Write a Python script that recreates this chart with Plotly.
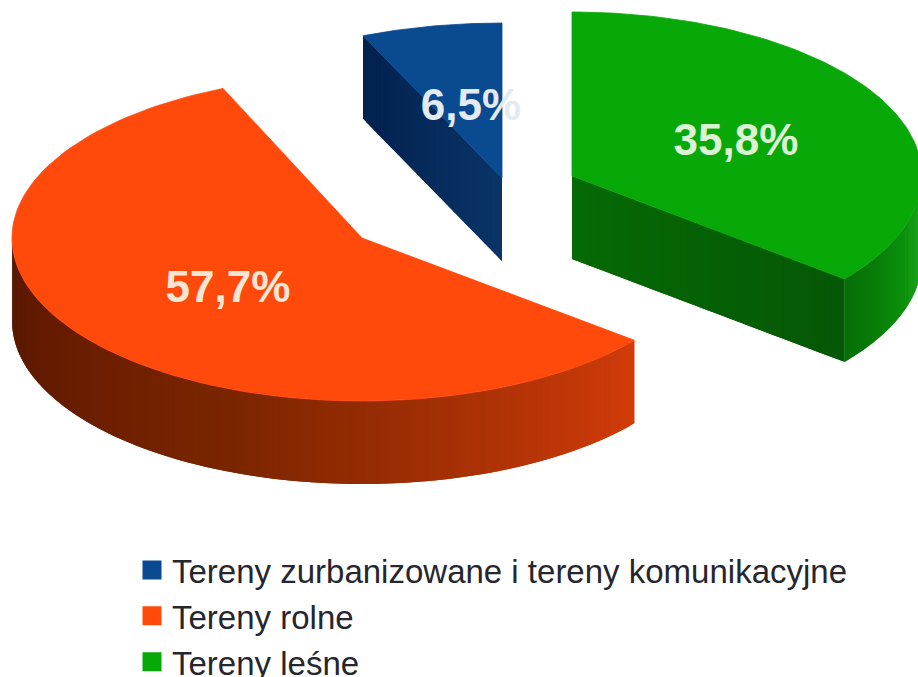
import numpy as np
import plotly.graph_objects as go

categories = ["Tereny zurbanizowane i tereny komunikacyjne", "Tereny rolne", "Tereny leśne"]
values = [6.5, 57.7, 35.8]

top_colors = ["#0a4a90", "#ff4a0c", "#08a808"]
centers = [(502, 178), (362, 238), (572, 176)]
radii_y = [155, 163, 164]
radius_x = 350
depth = 83
label_pos = [(471, 109), (228, 291), (736, 144)]
label_colors = ["#e4eaf1", "#f8e6d4", "#dcf2d4"]
wall_stops = {
    1: [(90, "#7a2400"), (129, "#d23c0a"), (165, "#a53005"), (200, "#7c2600"), (240, "#661c00"), (270, "#561800")],
    2: [(90, "#12a512"), (110, "#0c8f0c"), (129, "#086e08")],
}
cut_colors = {0: ("#02224f", "#0b3568"), 2: ("#055805", "#066a06")}


def hex2rgb(h):
    return np.array([int(h[i:i + 2], 16) for i in (1, 3, 5)], float)


def lerp_color(a, b, f):
    c = hex2rgb(a) * (1 - f) + hex2rgb(b) * f
    return "rgb(%d,%d,%d)" % tuple(c)


def stop_color(stops, t):
    ts = [s[0] for s in stops]
    rgb = [np.interp(t, ts, [hex2rgb(s[1])[k] for s in stops]) for k in range(3)]
    return "rgb(%d,%d,%d)" % tuple(rgb)


def rim(i, t):
    cx, cy = centers[i]
    r = np.radians(t)
    return cx + radius_x * np.sin(r), cy - radii_y[i] * np.cos(r)


def poly(xs, ys, color, edge=0):
    return go.Scatter(x=list(xs), y=list(ys), mode="lines", fill="toself", fillcolor=color,
                      line=dict(color=color, width=edge), hoverinfo="skip", showlegend=False)


fig = go.Figure()
angle = 360.0
spans = []
for v in values:
    a1 = angle
    a0 = angle - v * 3.6
    spans.append((a0, a1))
    angle = a0
# bring all spans to 0..360 clockwise from the top
spans = [(a0 % 360, a1 % 360 or 360.0) for a0, a1 in spans]

for i, (a0, a1) in enumerate(spans):
    cx, cy = centers[i]
    # cut face facing the viewer (painted in overlapping strips so no seams show)
    if i in cut_colors:
        edge = a0 if i == 0 else a1
        ex, ey = rim(i, edge)
        n = 40
        for k in range(n):
            f0, f1 = k / n, min((k + 2) / n, 1.0)
            x0, y0 = ex + (cx - ex) * f0, ey + (cy - ey) * f0
            x1, y1 = ex + (cx - ex) * f1, ey + (cy - ey) * f1
            col = lerp_color(cut_colors[i][0], cut_colors[i][1], f0)
            fig.add_trace(poly([x0, x1, x1, x0], [y0, y1, y1 + depth, y0 + depth], col))
    # outer wall, front half only
    if i in wall_stops:
        lo, hi = max(a0, 90), min(a1, 270)
        edges = np.linspace(lo, hi, 121)
        for k in range(len(edges) - 1):
            t0, t1 = edges[k], edges[min(k + 2, len(edges) - 1)]
            x0, y0 = rim(i, t0)
            x1, y1 = rim(i, t1)
            fig.add_trace(poly([x0, x1, x1, x0], [y0, y1, y1 + depth, y0 + depth],
                               stop_color(wall_stops[i], t0)))
    # top face
    ts = np.linspace(a0, a1, 120)
    xs, ys = rim(i, ts)
    fig.add_trace(poly([cx, *xs, cx], [cy, *ys, cy], top_colors[i], 0.8))

for i, v in enumerate(values):
    fig.add_trace(go.Scatter(
        x=[label_pos[i][0]], y=[label_pos[i][1]], mode="text",
        text=[f"{v:.1f}".replace(".", ",") + "%"],
        textfont=dict(family="Liberation Sans", size=44, color=label_colors[i], weight="bold"),
        textposition="middle center", hoverinfo="skip", showlegend=False))

for i, name in enumerate(categories):
    fig.add_trace(go.Scatter(
        x=[None], y=[None], mode="markers", name=name, legendgroup=name,
        marker=dict(symbol="square", size=16, color=top_colors[i], line=dict(color=top_colors[i], width=3))))

fig.update_layout(
    width=918, height=677, margin=dict(l=0, r=0, t=0, b=0, autoexpand=False),
    paper_bgcolor="white", plot_bgcolor="white",
    xaxis=dict(range=[0, 918], visible=False, fixedrange=True),
    yaxis=dict(range=[677, 0], visible=False, fixedrange=True),
    legend=dict(x=132 / 918, y=1 - 542 / 677, xanchor="left", yanchor="top",
                font=dict(family="Liberation Sans", size=33, color="#26262e"),
                tracegroupgap=0, bgcolor="rgba(0,0,0,0)", itemwidth=30),
)
fig.write_html("out.html", config={"displayModeBar": False},
               post_script="document.body.style.margin='0';document.body.style.overflow='hidden';")
